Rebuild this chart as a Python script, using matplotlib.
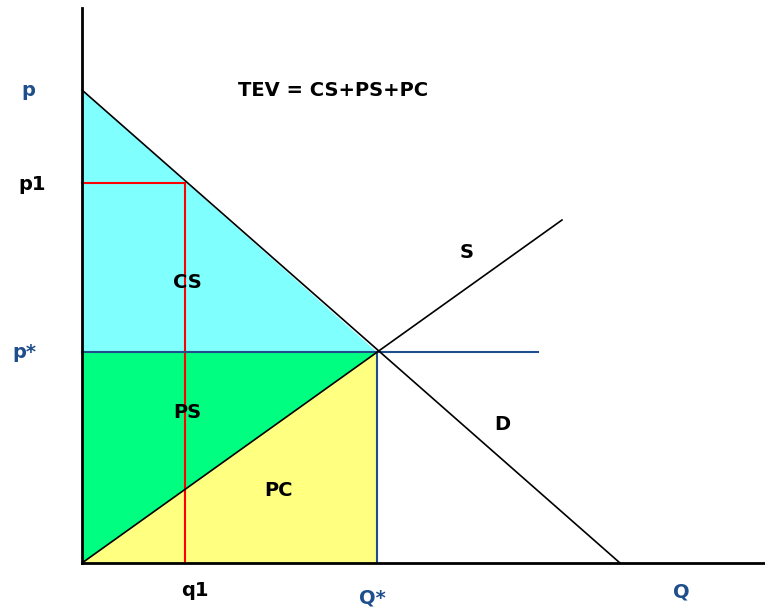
import matplotlib.pyplot as plt
from matplotlib.patches import Polygon

# economics diagram, units are arbitrary (origin at the axes corner)
p_top = 473      # demand intercept on price axis
p1 = 380
p_star = 211
q1 = 103
q_star = 295
d_end = 538      # demand hits quantity axis
s_end = (480, 343)
p_star_line_end = 456

area_names = ['CS', 'PS', 'PC']
area_colors = ['#80FFFF', '#00FF80', '#FFFF80']

blue = '#1F4E8C'
font = ['DejaVu Sans']

fig = plt.figure(figsize=(7.65, 6.08), dpi=100)
ax = fig.add_axes([0, 0, 1, 1])
ax.set_xlim(-82, 683)
ax.set_ylim(-45, 563)
ax.axis('off')

areas = [
    [(0, p_star), (0, p_top), (q_star, p_star)],
    [(0, 0), (0, p_star), (q_star, p_star)],
    [(0, 0), (q_star, p_star), (q_star, 0)],
]
for pts, c in zip(areas, area_colors):
    ax.add_patch(Polygon(pts, closed=True, facecolor=c, edgecolor='none', zorder=1))

# red q1/p1 lines
ax.plot([0, q1], [p1, p1], color='#FF0000', lw=1.5, zorder=2)
ax.plot([q1, q1], [0, p1], color='#FF0000', lw=1.5, zorder=2)

# blue equilibrium lines
ax.plot([0, p_star_line_end], [p_star, p_star], color=blue, lw=1.5, zorder=2)
ax.plot([q_star, q_star], [0, p_star], color=blue, lw=1.5, zorder=2)

# demand and supply
ax.plot([0, d_end], [p_top, 0], color='black', lw=1.2, zorder=3)
ax.plot([0, s_end[0]], [0, s_end[1]], color='black', lw=1.2, zorder=3)

# axes
ax.plot([0, 0], [0, 555], color='black', lw=2, zorder=4)
ax.plot([0, 683], [0, 0], color='black', lw=2, zorder=4)

kw = dict(family=font, fontweight='bold', fontsize=14, ha='center', va='center')
ax.text(-54, 473, 'p', color=blue, **kw)
ax.text(-50, 378, 'p1', color='black', **kw)
ax.text(-58, 210, 'p*', color=blue, **kw)
ax.text(113, -27, 'q1', color='black', **kw)
ax.text(290, -35, 'Q*', color=blue, **kw)
ax.text(599, -29, 'Q', color=blue, **kw)
ax.text(251, 473, 'TEV = CS+PS+PC', color='black', **kw)
ax.text(105, 280, 'CS', color='black', **kw)
ax.text(105, 150, 'PS', color='black', **kw)
ax.text(197, 73, 'PC', color='black', **kw)
ax.text(385, 310, 'S', color='black', **kw)
ax.text(420, 138, 'D', color='black', **kw)

fig.savefig('out.png', dpi=100)
